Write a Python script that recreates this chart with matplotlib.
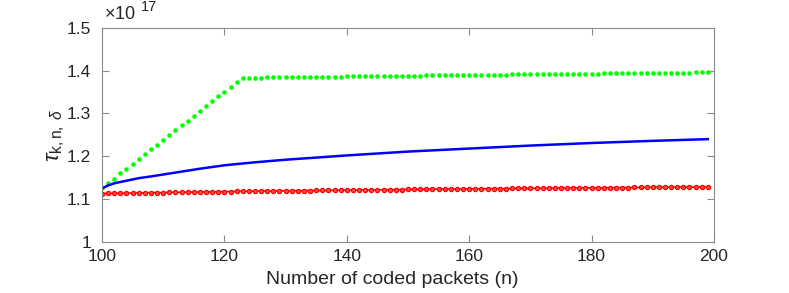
import matplotlib

matplotlib.use("Agg", force=True)

import matplotlib.pyplot as plt  # noqa: E402
from matplotlib.ticker import FuncFormatter  # noqa: E402

plt.rcParams["font.family"] = ["Liberation Sans", "DejaVu Sans"]
plt.rcParams["mathtext.fontset"] = "custom"
plt.rcParams["mathtext.rm"] = "Liberation Sans"
plt.rcParams["mathtext.it"] = "Liberation Sans:italic"

# values are in units of 1e17
n_all = list(range(100, 200))

green_vals = [
    1.126, 1.137, 1.148, 1.160, 1.171, 1.182, 1.193, 1.205, 1.216, 1.227,
    1.238, 1.250, 1.261, 1.272, 1.283, 1.295, 1.306, 1.317, 1.328, 1.340,
    1.351, 1.362, 1.373, 1.383,
    1.3832, 1.3834, 1.3836, 1.3838, 1.3840, 1.3841, 1.3843, 1.3845, 1.3847, 1.3849,
    1.3851, 1.3853, 1.3854, 1.3856, 1.3858, 1.3860, 1.3862, 1.3864, 1.3865, 1.3867,
    1.3869, 1.3871, 1.3873, 1.3874, 1.3876, 1.3878, 1.3880, 1.3881, 1.3883, 1.3885,
    1.3887, 1.3888, 1.3890, 1.3892, 1.3893, 1.3895, 1.3897, 1.3898, 1.3900, 1.3902,
    1.3903, 1.3905, 1.3907, 1.3908, 1.3910, 1.3912, 1.3913, 1.3915, 1.3916, 1.3918,
    1.3920, 1.3921, 1.3923, 1.3924, 1.3926, 1.3928, 1.3929, 1.3931, 1.3932, 1.3934,
    1.3935, 1.3937, 1.3938, 1.3940, 1.3942, 1.3943, 1.3945, 1.3946, 1.3948, 1.3949,
    1.3951, 1.3952, 1.3954, 1.3955, 1.3957, 1.3958,
]

red_vals = [
    1.1130, 1.1133, 1.1135, 1.1138, 1.1140, 1.1143, 1.1145, 1.1147, 1.1150, 1.1152,
    1.1154, 1.1157, 1.1159, 1.1161, 1.1163, 1.1165, 1.1167, 1.1169, 1.1171, 1.1173,
    1.1175, 1.1177, 1.1179, 1.1181, 1.1183, 1.1185, 1.1187, 1.1188, 1.1190, 1.1192,
    1.1194, 1.1196, 1.1197, 1.1199, 1.1201, 1.1202, 1.1204, 1.1206, 1.1207, 1.1209,
    1.1210, 1.1212, 1.1214, 1.1215, 1.1217, 1.1218, 1.1220, 1.1221, 1.1223, 1.1224,
    1.1226, 1.1227, 1.1228, 1.1230, 1.1231, 1.1233, 1.1234, 1.1235, 1.1237, 1.1238,
    1.1239, 1.1241, 1.1242, 1.1243, 1.1245, 1.1246, 1.1247, 1.1249, 1.1250, 1.1251,
    1.1252, 1.1254, 1.1255, 1.1256, 1.1257, 1.1258, 1.1260, 1.1261, 1.1262, 1.1263,
    1.1264, 1.1265, 1.1267, 1.1268, 1.1269, 1.1270, 1.1271, 1.1272, 1.1273, 1.1274,
    1.1276, 1.1277, 1.1278, 1.1279, 1.1280, 1.1281, 1.1282, 1.1283, 1.1284, 1.1285,
]

n_blue = [100, 101, 102, 104, 106, 108, 112, 116, 120, 125, 130, 140, 150, 160, 170, 180, 190, 199]
blue_vals = [1.125, 1.132, 1.137, 1.143, 1.149, 1.153, 1.162, 1.171, 1.179, 1.186,
             1.192, 1.202, 1.211, 1.218, 1.225, 1.231, 1.236, 1.240]

x_ticks = [100, 120, 140, 160, 180, 200]
y_ticks = [1.0, 1.1, 1.2, 1.3, 1.4, 1.5]

txt = "#262626"
axc = "#8c8c8c"

fig = plt.figure(figsize=(7.89, 2.93), dpi=100)
ax = fig.add_axes([0.1293, 0.174, 0.7756, 0.7315])

ax.plot(n_all, green_vals, linestyle="none", marker="o", markersize=3.3,
        color=(0, 1, 0), markeredgewidth=0)
ax.plot(n_blue, blue_vals, color=(0, 0, 1), linewidth=1.8)
ax.plot(n_all, red_vals, color=(1, 0, 0), linewidth=1.2, marker="o",
        markersize=3.0, markeredgewidth=0.9, markerfacecolor=(1, 0.3, 0.3))

ax.set_xlim(100, 200)
ax.set_ylim(1.0, 1.5)
ax.set_xticks(x_ticks)
ax.set_yticks(y_ticks)
ax.yaxis.set_major_formatter(FuncFormatter(lambda v, p: f"{v:g}"))

for s in ax.spines.values():
    s.set_color(axc)
    s.set_linewidth(0.8)
ax.tick_params(direction="in", length=5, width=0.8, color=axc, labelcolor=txt,
               labelsize=12.5, top=True, right=True)
ax.tick_params(axis="x", pad=5)
ax.tick_params(axis="y", pad=8)

ax.set_xlabel("Number of coded packets (n)", fontsize=14, color=txt, labelpad=1)
# label sits a little left of the axes centre in the original
ax.xaxis.set_label_coords(0.474, -0.135)
ax.set_ylabel(r"$\tau_{\mathrm{k,n,}\ \delta}$", fontsize=16, color=txt, labelpad=0)

ax.text(0.003, 1.02, r"$\times$10", transform=ax.transAxes, fontsize=13,
        color=txt, ha="left", va="bottom")
ax.text(0.064, 1.065, "17", transform=ax.transAxes, fontsize=10.5,
        color=txt, ha="left", va="bottom")

fig.savefig("out.png", dpi=100)
plt.close(fig)
